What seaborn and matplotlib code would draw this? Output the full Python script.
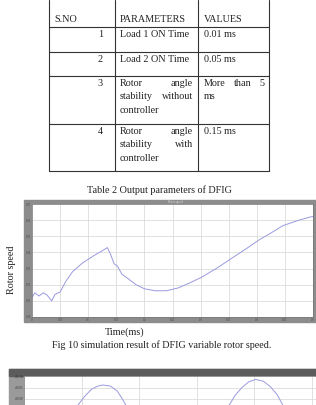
import numpy as np
import pandas as pd
import seaborn as sns
import matplotlib.pyplot as plt
from matplotlib.patches import Rectangle

# table 2 contents
headers = ["S.NO", "PARAMETERS", "VALUES"]
sno = ["1", "2", "3", "4"]
param_lines = [["Load 1 ON Time"],
               ["Load 2 ON Time"],
               ["Rotor angle", "stability without", "controller"],
               ["Rotor angle", "stability with", "controller"]]
value_lines = [["0.01 ms"], ["0.05 ms"], ["More than 5", "ms"], ["0.15 ms"]]

# fig 10 rotor speed trace
t_ms = [0, 0.005, 0.0125, 0.02, 0.027, 0.035, 0.041, 0.05, 0.06, 0.072, 0.09,
        0.11, 0.125, 0.134, 0.139, 0.146, 0.152, 0.16, 0.17, 0.185, 0.2, 0.22,
        0.24, 0.26, 0.28, 0.302, 0.33, 0.358, 0.38, 0.4025, 0.425, 0.4465,
        0.475, 0.5]
speed = [1.0120, 1.0150, 1.0130, 1.0150, 1.0135, 1.0100, 1.0140, 1.0155,
         1.0220, 1.0280, 1.0335, 1.0380, 1.0410, 1.0430, 1.0395, 1.0330,
         1.0315, 1.0265, 1.0240, 1.0200, 1.0175, 1.0162, 1.0163, 1.0180,
         1.0210, 1.0247, 1.0305, 1.0370, 1.0420, 1.0474, 1.0520, 1.0566,
         1.0600, 1.0624]
x1_ticks = [0, 0.05, 0.1, 0.15, 0.2, 0.25, 0.3, 0.35, 0.4, 0.45, 0.5]
y1_ticks = [1.00, 1.01, 1.02, 1.03, 1.04, 1.05, 1.06, 1.07]

# next figure (cut off at the page bottom)
t2 = [0.83, 0.94, 1.06, 1.18, 1.29, 1.37, 1.50, 1.62, 1.70, 1.77, 1.88, 2.65,
      3.46, 3.57, 3.67, 3.79, 3.91, 4.03, 4.16, 4.28, 4.40, 4.50, 4.60]
v2 = [4.5, 5.48, 6.26, 6.87, 7.13, 7.22, 7.13, 6.70, 6.09, 5.48, 4.5, 0.5,
      4.5, 5.48, 6.3, 7.0, 7.5, 7.7, 7.55, 7.1, 6.4, 5.48, 4.5]
y2_ticks = [6, 7, 8]
y2_labels = ["400.00", "400.05", "400.10"]

sns.set_style("white")
plt.rcParams['font.family'] = ['Liberation Serif', 'DejaVu Serif']

W, H = 316, 405
fig = plt.figure(figsize=(W / 100, H / 100), dpi=100)

# page layer in pixel units
page = fig.add_axes([0, 0, 1, 1])
page.set_xlim(0, W)
page.set_ylim(H, 0)
page.axis("off")
fs = 7.3
ink = "#222222"
trace = "#9a9ae0"

# --- table ---
col_x = [49, 115, 198, 269]
row_y = [27, 52, 76, 124, 171]
for x in col_x:
    page.plot([x, x], [0, row_y[-1]], color="#333333", lw=0.8)
for y in row_y:
    page.plot([col_x[0], col_x[-1]], [y, y], color="#333333", lw=0.8)

renderer = fig.canvas.get_renderer()


def justify(words, x0, x1, y):
    texts = [page.text(0, y, w, ha="left", va="center", fontsize=fs, color=ink)
             for w in words]
    widths = [t.get_window_extent(renderer).width for t in texts]
    gap = (x1 - x0 - sum(widths)) / (len(words) - 1)
    x = x0
    for t, w in zip(texts, widths):
        t.set_x(x)
        x += w + gap


page.text(54, 19, headers[0], ha="left", va="center", fontsize=fs, color=ink)
page.text(120, 19, headers[1], ha="left", va="center", fontsize=fs, color=ink)
page.text(204, 19, headers[2], ha="left", va="center", fontsize=fs, color=ink)

line_h = 13.3
for i in range(4):
    y0 = row_y[i] + 7.5
    page.text(103, y0, sno[i], ha="right", va="center", fontsize=fs, color=ink)
    for cell, (xl, xr) in ((param_lines[i], (120, 193)), (value_lines[i], (204, 264))):
        for j, line in enumerate(cell):
            y = y0 + j * line_h
            words = line.split()
            if j < len(cell) - 1 and len(words) > 1:
                justify(words, xl, xr, y)
            else:
                page.text(xl, y, line, ha="left", va="center", fontsize=fs, color=ink)

page.text(159, 190, "Table 2 Output parameters of DFIG", ha="center", va="center",
          fontsize=fs, color=ink)

# --- figure 10 scope ---
page.add_patch(Rectangle((24, 200), 292, 122, color="#8c8c8c", zorder=0))
page.text(175, 202, "Rotor speed", ha="center", va="center", fontsize=2.2, color="#dddddd")
page.text(12, 270, "Rotor speed", ha="center", va="center", rotation=90,
          fontsize=fs, color=ink)
page.text(125, 332, "Time(ms)", ha="center", va="center", fontsize=fs, color=ink)
page.text(162, 345, "Fig 10 simulation result of DFIG variable rotor speed.",
          ha="center", va="center", fontsize=fs, color=ink)

ax1 = fig.add_axes([32 / W, (H - 317) / H, 281 / W, 113 / H])
df1 = pd.DataFrame({"t": t_ms, "speed": speed})
sns.lineplot(data=df1, x="t", y="speed", ax=ax1, color=trace, linewidth=0.7)
ax1.set_xlim(0, 0.5)
ax1.set_ylim(1.00, 1.07)
ax1.set_xticks(x1_ticks)
ax1.set_yticks(y1_ticks)
ax1.set_xticklabels([f"{v:g}" for v in x1_ticks])
ax1.set_yticklabels([f"{v:.2f}" for v in y1_ticks])
ax1.set_xlabel("")
ax1.set_ylabel("")
ax1.grid(True, color="#dcdcdc", lw=0.6)
ax1.tick_params(labelsize=2.2, length=1.5, pad=0.6, direction="in", colors="#444444")
for s in ax1.spines.values():
    s.set_color("#777777")
    s.set_linewidth(0.5)

# --- next figure, cut off ---
page.add_patch(Rectangle((9, 369), 310, 40, color="#9a9a9a", zorder=0))
page.add_patch(Rectangle((9, 369), 310, 7, color="#5c5c5c", zorder=0))

ax2 = fig.add_axes([24 / W, (H - 468) / H, 292 / W, 92 / H])
df2 = pd.DataFrame({"t": t2, "v": v2})
sns.lineplot(data=df2, x="t", y="v", ax=ax2, color=trace, linewidth=0.7)
ax2.set_xlim(0, 292 / 57.5)
ax2.set_ylim(0, 8)
ax2.set_xticks([0, 1, 2, 3, 4, 5])
ax2.set_xticklabels([])
ax2.set_yticks(y2_ticks)
ax2.set_yticklabels(y2_labels)
ax2.set_xlabel("")
ax2.set_ylabel("")
ax2.grid(True, color="#dcdcdc", lw=0.6)
ax2.tick_params(labelsize=2.2, length=1.5, pad=0.6, direction="in", colors="#333333")
for s in ax2.spines.values():
    s.set_color("#777777")
    s.set_linewidth(0.5)

fig.savefig("out.png", dpi=100)
